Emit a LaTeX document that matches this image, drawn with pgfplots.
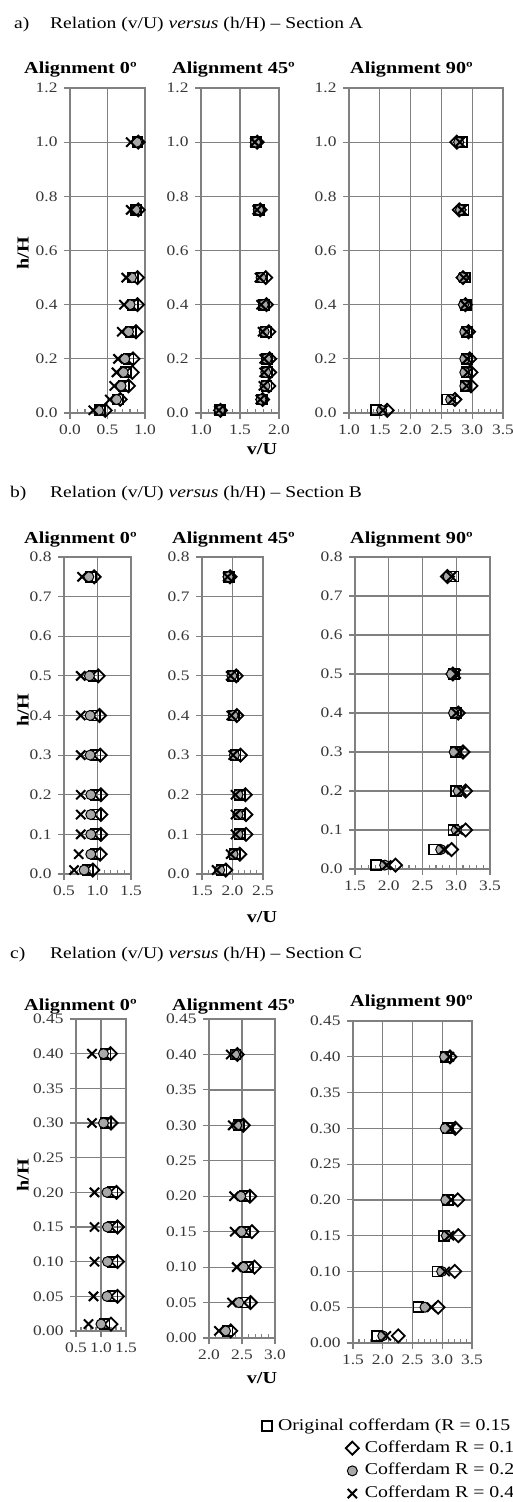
\documentclass[border=0pt]{standalone}
\usepackage{fontspec}
\setmainfont{Liberation Serif}[FakeStretch=1.2]
\usepackage{pgfplots}
\usepackage{pgfplotstable}
\pgfplotsset{compat=1.18}
\definecolor{gridc}{RGB}{128,128,128}
\definecolor{circfill}{RGB}{168,168,168}
\definecolor{tickc}{RGB}{55,55,55}
\newcommand\tfont{\fontsize{14.5}{16}\selectfont}
\newcommand\hfont{\fontsize{16.8}{19}\selectfont\bfseries}
\newcommand\sfont{\fontsize{16.3}{19}\selectfont}
\newcommand\lfont{\fontsize{16.5}{19}\selectfont}

\pgfplotsset{
 panel/.style={scale only axis, anchor=north west, clip=false,
   axis line style={gridc, line width=1.3pt},
   grid=major, major grid style={gridc, line width=1.2pt},
   tick style={gridc, line width=1.1pt},
   tick align=outside, major tick length=6pt, minor tick length=4pt,
   xtick pos=bottom, ytick pos=left,
   minor x tick num=4,
   minor tick style={yshift=4pt},
   tick label style={font=\tfont, text=tickc},
   yticklabel style={xshift=-3pt},
   xticklabel style={yshift=-2pt},
   /pgf/number format/assume math mode=true,
   scaled ticks=false,
   xticklabel style={/pgf/number format/fixed, /pgf/number format/fixed zerofill, /pgf/number format/precision=1},
 },
 ya/.style={ymin=0, ymax=1.2, ytick={0,0.2,0.4,0.6,0.8,1.0,1.2},
   yticklabel style={/pgf/number format/fixed, /pgf/number format/fixed zerofill, /pgf/number format/precision=1}},
 yb/.style={ymin=0, ymax=0.8, ytick={0,0.1,0.2,0.3,0.4,0.5,0.6,0.7,0.8},
   yticklabel style={/pgf/number format/fixed, /pgf/number format/fixed zerofill, /pgf/number format/precision=1}},
 yc/.style={ymin=0, ymax=0.45, ytick={0,0.05,0.1,0.15,0.2,0.25,0.3,0.35,0.4,0.45},
   yticklabel style={/pgf/number format/fixed, /pgf/number format/fixed zerofill, /pgf/number format/precision=2}},
 sqm/.style={only marks, mark=square, mark size=5pt, mark options={solid, draw=black, line width=1.8pt}},
 diam/.style={only marks, mark=square, mark size=4.6pt, mark options={solid, draw=black, line width=1.8pt, rotate=45}},
 cirm/.style={only marks, mark=*, mark size=5pt, mark options={solid, draw=black, fill=circfill, line width=1pt}},
 crsm/.style={only marks, mark=x, mark size=6.5pt, mark options={solid, draw=black, line width=2pt}},
 sq/.style={sqm, forget plot}, dia/.style={diam, forget plot},
 cir/.style={cirm, forget plot}, crs/.style={crsm, forget plot},
 leg/.style={legend style={draw=none, fill=none, font=\lfont, inner sep=0pt, row sep=4.7pt, anchor=north west,
   nodes={inner sep=1pt, text height=12pt, text depth=4pt},
   /tikz/every odd column/.append style={column sep=5pt}}, legend cell align=left},
}
\newcommand\four[1]{%
 \addplot[sq] table[x=sq,y=h]{#1};
 \addplot[dia] table[x=dia,y=h]{#1};
 \addplot[cir] table[x=cir,y=h]{#1};
 \addplot[crs] table[x=crs,y=h]{#1};}

\pgfplotstableread{
h sq dia cir crs
1.00 0.90 0.91 0.89 0.81
0.75 0.88 0.91 0.87 0.81
0.50 0.84 0.90 0.82 0.75
0.40 0.84 0.90 0.80 0.72
0.30 0.81 0.88 0.78 0.69
0.20 0.78 0.84 0.73 0.64
0.15 0.75 0.83 0.71 0.62
0.10 0.72 0.78 0.68 0.59
0.05 0.64 0.67 0.62 0.53
0.01 0.40 0.47 0.38 0.31
}\tAL
\pgfplotstableread{
h sq dia cir crs
1.00 1.71 1.72 1.70 1.69
0.75 1.74 1.76 1.74 1.72
0.50 1.78 1.83 1.77 1.75
0.40 1.81 1.84 1.80 1.77
0.30 1.83 1.87 1.81 1.79
0.20 1.85 1.88 1.84 1.81
0.15 1.85 1.88 1.83 1.81
0.10 1.84 1.87 1.82 1.80
0.05 1.78 1.79 1.77 1.76
0.01 1.24 1.25 1.24 1.23
}\tAM
\pgfplotstableread{
h sq dia cir crs
1.00 2.83 2.75 2.78 2.80
0.75 2.86 2.79 2.81 2.83
0.50 2.88 2.85 2.84 2.86
0.40 2.90 2.89 2.86 2.88
0.30 2.91 2.94 2.88 2.91
0.20 2.91 2.96 2.88 2.92
0.15 2.91 2.98 2.88 2.93
0.10 2.90 2.98 2.88 2.91
0.05 2.59 2.72 2.65 2.68
0.01 1.44 1.62 1.53 1.55
}\tAR
\pgfplotstableread{
h sq dia cir crs
0.75 0.90 0.95 0.87 0.77
0.50 0.94 1.01 0.88 0.75
0.40 0.96 1.03 0.89 0.75
0.30 0.97 1.04 0.89 0.75
0.20 0.98 1.05 0.90 0.75
0.15 0.98 1.05 0.90 0.75
0.10 0.98 1.05 0.90 0.75
0.05 0.97 1.04 0.90 0.72
0.01 0.86 0.93 0.80 0.65
}\tBL
\pgfplotstableread{
h sq dia cir crs
0.75 1.94 1.96 1.93 1.92
0.50 2.01 2.06 1.99 1.97
0.40 2.03 2.07 2.01 1.98
0.30 2.05 2.13 2.03 2.01
0.20 2.12 2.21 2.09 2.05
0.15 2.12 2.22 2.09 2.05
0.10 2.12 2.22 2.09 2.05
0.05 2.04 2.12 2.01 1.97
0.01 1.82 1.89 1.79 1.74
}\tBM
\pgfplotstableread{
h sq dia cir crs
0.75 2.96 2.87 2.88 2.93
0.50 2.97 2.95 2.93 3.00
0.40 3.00 3.03 2.96 3.00
0.30 3.00 3.10 2.97 3.05
0.20 3.00 3.14 3.03 3.08
0.10 2.96 3.14 3.00 3.03
0.05 2.67 2.93 2.77 2.82
0.01 1.81 2.10 1.94 1.97
}\tBR
\pgfplotstableread{
h sq dia cir crs
0.40 1.09 1.19 1.05 0.82
0.30 1.10 1.20 1.05 0.82
0.20 1.23 1.31 1.12 0.87
0.15 1.23 1.33 1.13 0.87
0.10 1.23 1.33 1.13 0.87
0.05 1.23 1.33 1.12 0.85
0.01 1.07 1.20 1.00 0.75
}\tCL
\pgfplotstableread{
h sq dia cir crs
0.40 2.40 2.43 2.39 2.33
0.30 2.45 2.52 2.42 2.36
0.20 2.54 2.62 2.48 2.38
0.15 2.55 2.65 2.49 2.39
0.10 2.59 2.69 2.52 2.42
0.05 2.55 2.63 2.45 2.35
0.01 2.28 2.33 2.25 2.15
}\tCM
\pgfplotstableread{
h sq dia cir crs
0.40 3.06 3.13 3.04 3.12
0.30 3.10 3.22 3.05 3.15
0.20 3.10 3.26 3.06 3.15
0.15 3.03 3.27 3.07 3.12
0.10 2.92 3.21 2.99 3.05
0.05 2.60 2.93 2.71 2.82
0.01 1.91 2.26 2.00 2.06
}\tCR

\begin{document}
\begin{tikzpicture}
\path[use as bounding box] (0pt,0pt) rectangle (513pt,-1502pt);
\tikzset{lab/.style={inner sep=0pt, anchor=base west}}
% ---------- Section A ----------
\node[lab, font=\sfont] at (14pt,-28pt) {a)};
\node[lab, font=\sfont] at (50pt,-28pt) {Relation (v/U) \textit{versus} (h/H) – Section A};
\node[lab, font=\hfont] at (24pt,-73pt) {Alignment 0º};
\node[lab, font=\hfont] at (172pt,-73pt) {Alignment 45º};
\node[lab, font=\hfont] at (350pt,-73pt) {Alignment 90º};
\node[inner sep=0pt, rotate=90, font=\hfont] at (23pt,-253pt) {h/H};
\node[inner sep=0pt, font=\hfont] at (262pt,-449pt) {v/U};
\begin{axis}[panel, ya, at={(70pt,-88pt)}, width=75pt, height=325pt, xmin=0, xmax=1, xtick={0,0.5,1}]
\four\tAL
\end{axis}
\begin{axis}[panel, ya, at={(201pt,-88pt)}, width=78pt, height=325pt, xmin=1, xmax=2, xtick={1,1.5,2}]
\four\tAM
\end{axis}
\begin{axis}[panel, ya, at={(349pt,-88pt)}, width=154pt, height=325pt, xmin=1, xmax=3.5, xtick={1,1.5,2,2.5,3,3.5}]
\four\tAR
\end{axis}
% ---------- Section B ----------
\node[lab, font=\sfont] at (10pt,-497pt) {b)};
\node[lab, font=\sfont] at (50pt,-497pt) {Relation (v/U) \textit{versus} (h/H) – Section B};
\node[lab, font=\hfont] at (24pt,-543pt) {Alignment 0º};
\node[lab, font=\hfont] at (172pt,-543pt) {Alignment 45º};
\node[lab, font=\hfont] at (350pt,-543pt) {Alignment 90º};
\node[inner sep=0pt, rotate=90, font=\hfont] at (23pt,-710pt) {h/H};
\node[inner sep=0pt, font=\hfont] at (262pt,-917pt) {v/U};
\begin{axis}[panel, yb, at={(64pt,-557pt)}, width=67pt, height=317pt, xmin=0.5, xmax=1.5, xtick={0.5,1,1.5}]
\four\tBL
\end{axis}
\begin{axis}[panel, yb, at={(202pt,-557pt)}, width=61pt, height=317pt, xmin=1.5, xmax=2.5, xtick={1.5,2,2.5}]
\four\tBM
\end{axis}
\begin{axis}[panel, yb, at={(355pt,-557pt)}, width=135pt, height=312pt, xmin=1.5, xmax=3.5, xtick={1.5,2,2.5,3,3.5}]
\four\tBR
\end{axis}
% ---------- Section C ----------
\node[lab, font=\sfont] at (10pt,-958pt) {c)};
\node[lab, font=\sfont] at (50pt,-958pt) {Relation (v/U) \textit{versus} (h/H) – Section C};
\node[lab, font=\hfont] at (24pt,-1010pt) {Alignment 0º};
\node[lab, font=\hfont] at (172pt,-1010pt) {Alignment 45º};
\node[lab, font=\hfont] at (350pt,-1006pt) {Alignment 90º};
\node[inner sep=0pt, rotate=90, font=\hfont] at (23pt,-1175pt) {h/H};
\node[inner sep=0pt, font=\hfont] at (262pt,-1378pt) {v/U};
\begin{axis}[panel, yc, at={(76pt,-1019pt)}, width=50pt, height=312pt, xmin=0.5, xmax=1.5, xtick={0.5,1,1.5}]
\four\tCL
\end{axis}
\begin{axis}[panel, yc, leg, at={(209pt,-1019pt)}, width=66pt, height=319pt, xmin=2, xmax=3, xtick={2,2.5,3},
  legend style={at={(axis description cs:0.80,-0.248)}}]
\four\tCM
\addlegendimage{sqm}\addlegendentry{Original cofferdam (R = 0.15 m)}
\end{axis}
\begin{axis}[panel, yc, leg, at={(353pt,-1021pt)}, width=119pt, height=322pt, xmin=1.5, xmax=3.5, xtick={1.5,2,2.5,3,3.5},
  legend style={at={(axis description cs:-0.062,-0.298)}}]
\four\tCR
\addlegendimage{diam}\addlegendentry{Cofferdam R = 0.1 m}
\addlegendimage{cirm}\addlegendentry{Cofferdam R = 0.2 m}
\addlegendimage{crsm}\addlegendentry{Cofferdam R = 0.4 m}
\end{axis}
\end{tikzpicture}
\end{document}
